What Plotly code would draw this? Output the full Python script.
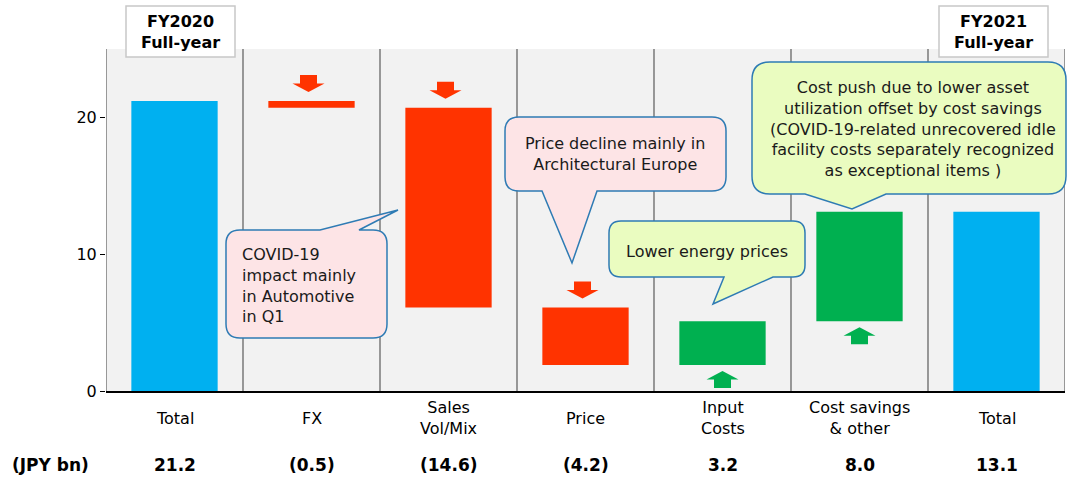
import plotly.graph_objects as go

# ---------------- data ----------------
categories = ["Total", "FX", "Sales<br>Vol/Mix", "Price", "Input<br>Costs", "Cost savings<br>& other", "Total"]
measures = ["absolute", "relative", "relative", "relative", "relative", "relative", "total"]
values = [21.2, -0.5, -14.6, -4.2, 3.2, 8.0, 13.1]
y_ticks = [0, 10, 20]
unit_label = "(JPY bn)"
header_left = "FY2020<br>Full-year"
header_right = "FY2021<br>Full-year"

# ---------------- style ----------------
BLUE = "#00B0F0"
RED = "#FF3300"
GREEN = "#00B050"
FONT = "DejaVu Sans"
W, H = 1067, 479
ML, MR, MT, MB = 106, 2, 49, 88
PW, PH = W - ML - MR, H - MT - MB
YMAX = 25


def P(px, py):
    return (px - ML) / PW, (H - MB - py) / PH


n = len(categories)
xs = list(range(n))

fig = go.Figure()
fig.add_trace(go.Waterfall(
    x=xs, y=values, measure=measures, width=0.63,
    increasing=dict(marker=dict(color=GREEN, line=dict(width=0))),
    decreasing=dict(marker=dict(color=RED, line=dict(width=0))),
    totals=dict(marker=dict(color=BLUE, line=dict(width=0))),
    connector=dict(visible=False), textinfo="none", hoverinfo="skip",
))

shapes = []
# column separators
for b in range(n + 1):
    shapes.append(dict(type="line", xref="x", yref="y", x0=b - 0.5, x1=b - 0.5, y0=0, y1=YMAX,
                       line=dict(color="#808080", width=1.6), layer="below"))

# arrows derived from running totals
px_x = PW / n
px_y = PH / YMAX
hw, sw = 16 / px_x, 8.5 / px_x
AH, HH = 17 / px_y, 8.5 / px_y
run = 0.0
for i, (m, v) in enumerate(zip(measures, values)):
    if m == "relative":
        start = run
        run += v
        c = xs[i] - (3 / px_x if v < 0 else 0)
        if v < 0:
            t = start + 9 / px_y
            path = (f"M {c-sw},{t+AH} L {c+sw},{t+AH} L {c+sw},{t+HH} L {c+hw},{t+HH} "
                    f"L {c},{t} L {c-hw},{t+HH} L {c-sw},{t+HH} Z")
            col = RED
        else:
            t = start - 6 / px_y
            path = (f"M {c-sw},{t-AH} L {c+sw},{t-AH} L {c+sw},{t-HH} L {c+hw},{t-HH} "
                    f"L {c},{t} L {c-hw},{t-HH} L {c-sw},{t-HH} Z")
            col = GREEN
        shapes.append(dict(type="path", xref="x", yref="y", path=path,
                           fillcolor=col, line=dict(width=0), layer="above"))
    elif m == "absolute":
        run = v


def callout(x0, y0, x1, y1, r, side, b1, b2, tip, fill):
    pts = []
    def pt(cmd, *xy):
        coords = []
        for k in range(0, len(xy), 2):
            a, b = P(xy[k], xy[k + 1])
            coords.append(f"{a:.5f},{b:.5f}")
        pts.append(cmd + " " + " ".join(coords))
    pt("M", x0 + r, y0)
    if side == "top":
        pt("L", b1, y0); pt("L", *tip); pt("L", b2, y0)
    pt("L", x1 - r, y0)
    pt("Q", x1, y0, x1, y0 + r)
    pt("L", x1, y1 - r)
    pt("Q", x1, y1, x1 - r, y1)
    if side == "bottom":
        pt("L", b2, y1); pt("L", *tip); pt("L", b1, y1)
    pt("L", x0 + r, y1)
    pt("Q", x0, y1, x0, y1 - r)
    pt("L", x0, y0 + r)
    pt("Q", x0, y0, x0 + r, y0)
    return dict(type="path", xref="paper", yref="paper", path=" ".join(pts) + " Z",
                fillcolor=fill, line=dict(color="#2E7BB4", width=1.5), layer="above")


PINK = "#FDE4E6"
LIME = "#EAFCC0"
shapes.append(callout(226, 230, 387, 338, 14, "top", 320, 359, (398, 210), PINK))
shapes.append(callout(505, 117, 726, 191, 14, "bottom", 542, 597, (572, 263), PINK))
shapes.append(callout(609, 221, 805, 277, 12, "bottom", 724, 773, (713, 304), LIME))
shapes.append(callout(752, 62, 1066, 194, 18, "bottom", 805, 886, (852, 209), LIME))

# header boxes
for (x0, x1) in [(126, 235), (939, 1048)]:
    a0, b0 = P(x0, 57)
    a1, b1 = P(x1, 6)
    shapes.append(dict(type="rect", xref="paper", yref="paper", x0=a0, y0=b0, x1=a1, y1=b1,
                       fillcolor="white", line=dict(color="#C8C8C8", width=1.5), layer="above"))

annotations = []


def txt(text, px, py, size=16, bold=False, align="center", xanchor="center", color="#1A1A1A"):
    a, b = P(px, py)
    annotations.append(dict(text=f"<b>{text}</b>" if bold else text, x=a, y=b, xref="paper", yref="paper",
                            xanchor=xanchor, yanchor="middle", align=align, showarrow=False,
                            font=dict(family=FONT, size=size, color=color)))


txt(header_left, 180.5, 32, size=16, bold=True, color="#000")
txt(header_right, 993.5, 32, size=16, bold=True, color="#000")
txt("COVID-19<br>impact mainly<br>in Automotive<br>in Q1", 240, 285, align="left", xanchor="left")
txt("Price decline mainly in<br>Architectural Europe", 615, 154)
txt("Lower energy prices", 707, 251)
txt("Cost push due to lower asset<br>utilization offset by cost savings<br>(COVID-19-related unrecovered idle<br>"
    "facility costs separately recognized<br>as exceptional items )", 913, 129)


def fmt(v):
    return f"({abs(v):.1f})" if v < 0 else f"{v:.1f}"


cat_y = P(0, 418)[1]
val_y = P(0, 465)[1]
for i, c in enumerate(categories):
    annotations.append(dict(text=c, x=xs[i], y=cat_y, xref="x", yref="paper", showarrow=False,
                            xanchor="center", yanchor="middle", font=dict(family=FONT, size=16, color="#000")))
    annotations.append(dict(text=f"<b>{fmt(values[i])}</b>", x=xs[i], y=val_y, xref="x", yref="paper",
                            showarrow=False, xanchor="center", yanchor="middle",
                            font=dict(family=FONT, size=17, color="#000")))
txt(unit_label, 10, 465, size=17, bold=True, xanchor="left", color="#000")

fig.update_layout(
    width=W, height=H, margin=dict(l=ML, r=MR, t=MT, b=MB),
    paper_bgcolor="white", plot_bgcolor="#F2F2F2",
    showlegend=False, shapes=shapes, annotations=annotations,
    font=dict(family=FONT, size=15, color="#000"),
    xaxis=dict(range=[-0.5, n - 0.5], showticklabels=False, ticks="", showgrid=False, zeroline=False,
               showline=True, linecolor="#000", linewidth=2, fixedrange=True),
    yaxis=dict(range=[0, YMAX], tickvals=y_ticks, ticks="outside", ticklen=5, tickcolor="#000",
               tickwidth=1, showgrid=False, zeroline=False, showline=False,
               tickfont=dict(family=FONT, size=16, color="#000"), fixedrange=True),
)
fig.write_html("out.html")
